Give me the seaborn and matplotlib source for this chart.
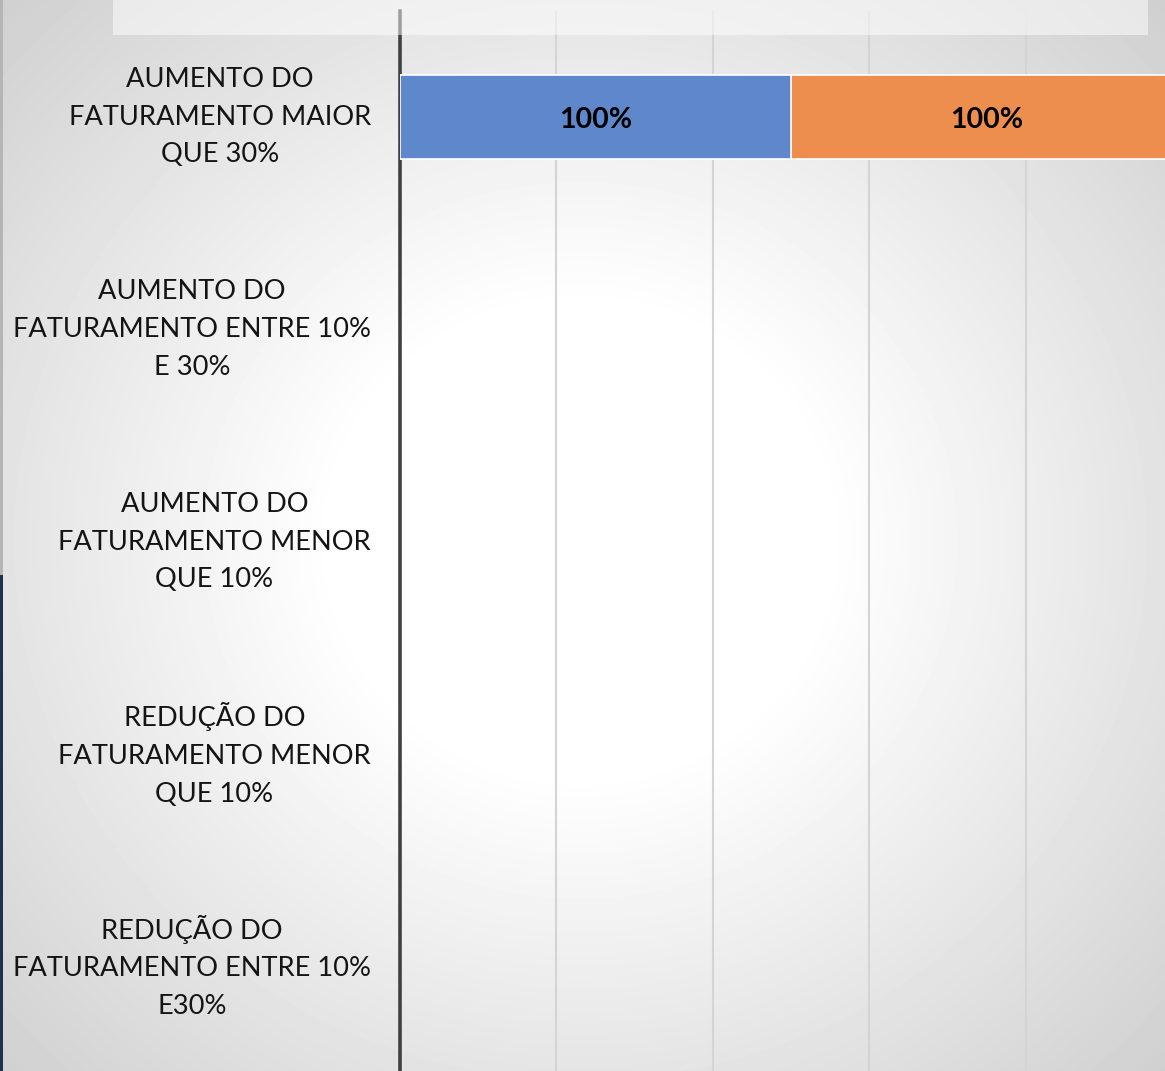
import numpy as np
import pandas as pd
import matplotlib
matplotlib.use("Agg")
import matplotlib.pyplot as plt
from matplotlib.patches import Rectangle
import seaborn as sns

# dados
categorias = [
    "AUMENTO DO\nFATURAMENTO MAIOR\nQUE 30%",
    "AUMENTO DO\nFATURAMENTO ENTRE 10%\nE 30%",
    "AUMENTO DO\nFATURAMENTO MENOR\nQUE 10%",
    "REDUÇÃO DO\nFATURAMENTO MENOR\nQUE 10%",
    "REDUÇÃO DO\nFATURAMENTO ENTRE 10%\nE30%",
]
serie1 = [100, 0, 0, 0, 0]
serie2 = [100, 0, 0, 0, 0]
grade_x = [0, 40, 80, 120, 160, 200]

azul = "#5f87cc"
laranja = "#ee8e4e"

sns.set_style("white")
plt.rcParams["font.family"] = ["Lato", "DejaVu Sans"]

df = pd.DataFrame({"cat": categorias, "s1": serie1, "s2": serie2})
df["total"] = df["s1"] + df["s2"]

W, H = 1165, 1071
fig = plt.figure(figsize=(W / 100, H / 100), dpi=100)

# fundo com gradiente radial (claro no centro, cinza nas bordas)
bg = fig.add_axes([0, 0, 1, 1], zorder=0)
yy, xx = np.mgrid[0:H, 0:W]
r = np.sqrt(((xx - 580) / 820.0) ** 2 + ((yy - 540) / 780.0) ** 2)
val = 1 - 0.27 * np.clip(r - 0.3, 0, None)
bg.imshow(val, cmap="gray", vmin=0, vmax=1, aspect="auto", interpolation="bilinear")
bg.set_axis_off()

left = 400 / W
ax = fig.add_axes([left, -2 / H, 1 - left, 1062 / H], zorder=1)
ax.patch.set_alpha(0)

# barras empilhadas: total por baixo, série 1 por cima
sns.barplot(data=df, x="total", y="cat", color=laranja, orient="h", width=0.395,
            edgecolor="white", linewidth=1.2, saturation=1, ax=ax, zorder=3)
sns.barplot(data=df, x="s1", y="cat", color=azul, orient="h", width=0.395,
            edgecolor="white", linewidth=1.2, saturation=1, ax=ax, zorder=4)
for p in ax.patches:
    if p.get_width() == 0:
        p.set_linewidth(0)

for i, (a, b) in enumerate(zip(serie1, serie2)):
    if a > 0:
        ax.text(a / 2, i, f"{a}%", ha="center", va="center_baseline", fontsize=20.5,
                fontweight="bold", color="black", zorder=6)
    if b > 0:
        ax.text(a + b / 2, i, f"{b}%", ha="center", va="center_baseline", fontsize=20.5,
                fontweight="bold", color="black", zorder=6)

ax.set_xticks(grade_x)
ax.set_xticklabels([])
ax.set_xlim(0, 765 / 3.91)
ax.set_ylim(4.5, -0.5)
ax.tick_params(axis="x", length=0)
ax.tick_params(axis="y", length=0, pad=21)
ax.grid(axis="x", color="#d4d4d4", linewidth=1.5, zorder=0)
ax.set_axisbelow(True)
for lab in ax.get_yticklabels():
    lab.set_fontsize(19.6)
    lab.set_multialignment("center")
    lab.set_verticalalignment("center")
    lab.set_linespacing(1.63)
    lab.set_color("#141414")
ax.set_xlabel("")
ax.set_ylabel("")
for s in ["top", "right", "bottom"]:
    ax.spines[s].set_visible(False)
ax.spines["left"].set_color("#404040")
ax.spines["left"].set_linewidth(2.6)

# faixa clara do topo (área da legenda) e borda esquerda
fig.add_artist(Rectangle((113 / W, 1 - 35 / H), (1148 - 113) / W, 35 / H,
                         transform=fig.transFigure, facecolor="white", alpha=0.5,
                         edgecolor="none", zorder=5))
fig.add_artist(Rectangle((0, 1 - 575 / H), 3 / W, 575 / H, transform=fig.transFigure,
                         facecolor="#b5b5b5", edgecolor="none", zorder=5))
fig.add_artist(Rectangle((0, 0), 3 / W, 1 - 575 / H, transform=fig.transFigure,
                         facecolor="#1f3050", edgecolor="none", zorder=5))

fig.savefig("out.png", dpi=100)
